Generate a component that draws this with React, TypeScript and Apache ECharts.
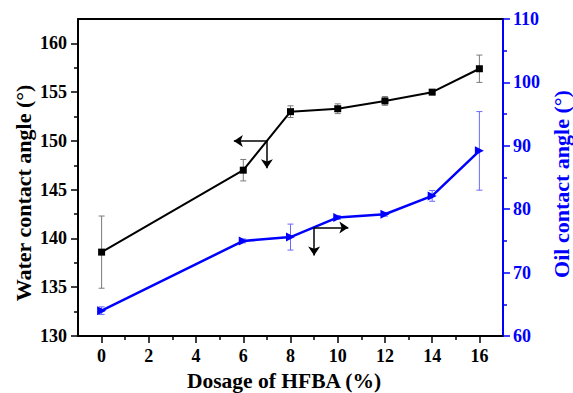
import React, { useEffect, useRef } from "react";
import * as echarts from "echarts";

const dosage = [0, 6, 8, 10, 12, 14, 16];
const waterAngle = [138.6, 147.0, 153.0, 153.3, 154.1, 155.0, 157.4];
const waterErr = [3.7, 1.1, 0.6, 0.5, 0.45, 0.15, 1.4];
const oilAngle = [64.0, 75.0, 75.6, 78.7, 79.2, 82.1, 89.2];
const oilErr = [0.6, 0.3, 2.05, 0.3, 0.3, 0.85, 6.2];

const xTicks = [0, 2, 4, 6, 8, 10, 12, 14, 16];
const xMinorTicks = [1, 3, 5, 7, 9, 11, 13, 15];
const leftTicks = [130, 135, 140, 145, 150, 155, 160];
const leftMinorTicks = [132.5, 137.5, 142.5, 147.5, 152.5, 157.5];
const rightTicks = [60, 70, 80, 90, 100, 110];
const rightMinorTicks = [65, 75, 85, 95, 105];

const FONT = "Times New Roman";
const BLUE = "#0000ff";

function errorSeries(name: string, xs: number[], ys: number[], errs: number[], yAxisIndex: number, color: string) {
  return {
    name,
    type: "custom",
    xAxisIndex: 0,
    yAxisIndex,
    z: 1,
    silent: true,
    data: xs.map((x, i) => [x, ys[i] - errs[i], ys[i] + errs[i]]),
    renderItem: (params: any, api: any) => {
      const x = api.value(0);
      const top = api.coord([x, api.value(2)]);
      const bot = api.coord([x, api.value(1)]);
      const hw = 3;
      const style = { stroke: color, lineWidth: 1 };
      return {
        type: "group",
        children: [
          { type: "line", shape: { x1: top[0], y1: top[1], x2: bot[0], y2: bot[1] }, style },
          { type: "line", shape: { x1: top[0] - hw, y1: top[1], x2: top[0] + hw, y2: top[1] }, style },
          { type: "line", shape: { x1: bot[0] - hw, y1: bot[1], x2: bot[0] + hw, y2: bot[1] }, style },
        ],
      };
    },
  };
}

export default function App() {
  const ref = useRef<HTMLDivElement>(null);
  useEffect(() => {
    if (!ref.current) return;
    const chart = echarts.init(ref.current, undefined, { renderer: "svg" });
    const labelStyle = { fontFamily: FONT, fontWeight: "bold" as const, fontSize: 18 };
    chart.setOption({
      animation: false,
      backgroundColor: "#fff",
      textStyle: { fontFamily: FONT },
      grid: { left: 78, right: 70, top: 19, bottom: 57, containLabel: false },
      xAxis: [
        {
          type: "value",
          min: -1,
          max: 17,
          position: "bottom",
          axisLine: { show: true, onZero: false, lineStyle: { color: "#000", width: 2 } },
          axisTick: { show: true, inside: false, length: 7, lineStyle: { color: "#000", width: 1.5 }, customValues: xTicks },
          axisLabel: { ...labelStyle, color: "#000", margin: 11, customValues: xTicks },
          splitLine: { show: false },
        },
        {
          type: "value",
          min: -1,
          max: 17,
          position: "bottom",
          axisLine: { show: false, onZero: false },
          axisTick: { show: true, inside: false, length: 4, lineStyle: { color: "#000", width: 1.5 }, customValues: xMinorTicks },
          axisLabel: { show: false },
          splitLine: { show: false },
        },
        {
          type: "value",
          min: -1,
          max: 17,
          position: "top",
          axisLine: { show: true, onZero: false, lineStyle: { color: "#000", width: 2 } },
          axisTick: { show: false },
          axisLabel: { show: false },
          splitLine: { show: false },
        },
      ],
      yAxis: [
        {
          type: "value",
          min: 130,
          max: 162.5,
          position: "left",
          axisLine: { show: true, onZero: false, lineStyle: { color: "#000", width: 2 } },
          axisTick: { show: true, inside: false, length: 7, lineStyle: { color: "#000", width: 1.5 }, customValues: leftTicks },
          axisLabel: { ...labelStyle, color: "#000", margin: 11, customValues: leftTicks },
          splitLine: { show: false },
        },
        {
          type: "value",
          min: 60,
          max: 110,
          position: "right",
          axisLine: { show: true, onZero: false, lineStyle: { color: BLUE, width: 2 } },
          axisTick: { show: true, inside: false, length: 7, lineStyle: { color: BLUE, width: 1.5 }, customValues: rightTicks },
          axisLabel: { ...labelStyle, color: BLUE, margin: 10, customValues: rightTicks },
          splitLine: { show: false },
        },
        {
          type: "value",
          min: 130,
          max: 162.5,
          position: "left",
          axisLine: { show: false, onZero: false },
          axisTick: { show: true, inside: false, length: 4, lineStyle: { color: "#000", width: 1.5 }, customValues: leftMinorTicks },
          axisLabel: { show: false },
          splitLine: { show: false },
        },
        {
          type: "value",
          min: 60,
          max: 110,
          position: "right",
          axisLine: { show: false, onZero: false },
          axisTick: { show: true, inside: false, length: 4, lineStyle: { color: BLUE, width: 1.5 }, customValues: rightMinorTicks },
          axisLabel: { show: false },
          splitLine: { show: false },
        },
      ],
      graphic: [
        {
          type: "text",
          x: 23,
          y: 193,
          rotation: Math.PI / 2,
          style: { text: "Water contact angle (°)", fontFamily: FONT, fontWeight: "bold", fontSize: 22, fill: "#000", align: "center", verticalAlign: "middle" },
        },
        {
          type: "text",
          x: 561,
          y: 184,
          rotation: Math.PI / 2,
          style: { text: "Oil contact angle (°)", fontFamily: FONT, fontWeight: "bold", fontSize: 22, fill: BLUE, align: "center", verticalAlign: "middle" },
        },
        {
          type: "text",
          x: 284,
          y: 381,
          style: { text: "Dosage of HFBA (%)", fontFamily: FONT, fontWeight: "bold", fontSize: 21.5, fill: "#000", align: "center", verticalAlign: "middle" },
        },
      ],
      series: [
        errorSeries("waterErr", dosage, waterAngle, waterErr, 0, "#7a7a7a"),
        errorSeries("oilErr", dosage, oilAngle, oilErr, 1, "#6a6aff"),
        {
          name: "Water contact angle",
          type: "line",
          xAxisIndex: 0,
          yAxisIndex: 0,
          z: 3,
          data: dosage.map((x, i) => [x, waterAngle[i]]),
          symbol: "rect",
          symbolSize: 7,
          lineStyle: { color: "#000", width: 2 },
          itemStyle: { color: "#000" },
          markLine: {
            silent: true,
            symbol: ["none", "arrow"],
            symbolSize: 9,
            label: { show: false },
            lineStyle: { color: "#000", width: 1.5, type: "solid" },
            data: [
              [{ coord: [7, 150] }, { coord: [5.6, 150] }],
              [{ coord: [7, 150] }, { coord: [7, 147.2] }],
            ],
          },
        },
        {
          name: "Oil contact angle",
          type: "line",
          xAxisIndex: 0,
          yAxisIndex: 1,
          z: 3,
          data: dosage.map((x, i) => [x, oilAngle[i]]),
          symbol: "triangle",
          symbolRotate: -90,
          symbolSize: 9,
          lineStyle: { color: BLUE, width: 2.5 },
          itemStyle: { color: BLUE },
          markLine: {
            silent: true,
            symbol: ["none", "arrow"],
            symbolSize: 9,
            label: { show: false },
            lineStyle: { color: "#000", width: 1.5, type: "solid" },
            data: [
              [{ coord: [9, 77.1] }, { coord: [10.45, 77.1] }],
              [{ coord: [9, 77.1] }, { coord: [9, 72.7] }],
            ],
          },
        },
      ],
    });
    return () => chart.dispose();
  }, []);
  return <div ref={ref} style={{ position: "fixed", left: 0, top: 0, width: 573, height: 393 }} />;
}
